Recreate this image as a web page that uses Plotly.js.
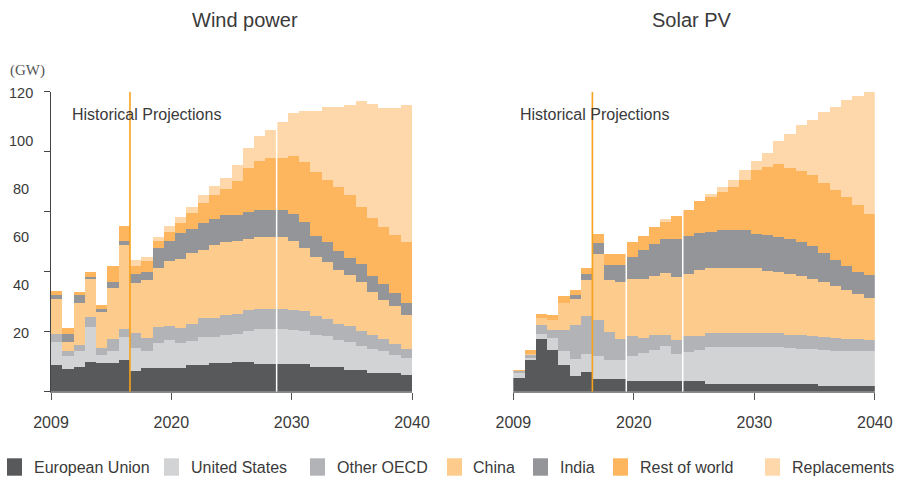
<!DOCTYPE html>
<html>
<head>
<meta charset="utf-8">
<script src="https://cdn.plot.ly/plotly-3.0.1.min.js"></script>
<style>html,body{margin:0;padding:0;background:#fff;}#chart{width:899px;height:479px;}</style>
</head>
<body>
<div id="chart"></div>
<script>
// ---------- DATA ----------
const years = [2009,2010,2011,2012,2013,2014,2015,2016,2017,2018,2019,2020,2021,2022,2023,2024,
               2025,2026,2027,2028,2029,2030,2031,2032,2033,2034,2035,2036,2037,2038,2039,2040];
const seriesNames = ["European Union","United States","Other OECD","China","India","Rest of world","Replacements"];
const seriesColors = ["#58595b","#d1d3d4","#b1b3b6","#fdcb8b","#939598","#fdb55e","#fed8aa"];
const panelTitles = ["Wind power","Solar PV"];
const xTickText = ["2009","2020","2030","2040"];
const yTickLabels = [20,40,60,80,100,120];

// Wind power annual capacity additions (GW)
const windEU    = [10.6,9.1,9.7,12.0,11.4,11.5,12.8,8.4,9.3,9.3,9.3,9.3,10.7,10.7,11.3,11.3,11.9,11.9,11.1,11.1,11.1,11.1,11.1,9.8,9.8,9.8,8.5,8.5,7.5,7.5,7.5,6.6];
const windUS    = [9.2,5.3,6.6,14.0,3.1,4.6,8.9,9.2,7.0,10.0,11.4,10.0,9.6,11.0,10.7,11.4,11.1,12.2,14.1,14.1,14.1,13.5,13.0,13.0,12.3,10.8,11.3,9.8,9.4,8.6,7.3,6.7];
const windOECD  = [3.3,1.9,2.4,3.9,3.0,5.1,3.4,5.8,5.3,6.4,5.7,6.0,6.8,7.6,7.3,8.0,8.2,8.5,8.0,8.0,8.0,7.9,8.1,7.3,7.0,6.5,6.3,5.8,5.7,5.1,4.3,3.8];
const windChina = [13.9,3.5,16.9,15.0,14.3,20.2,33.7,20.2,23.1,23.6,26.0,27.6,28.2,27.4,29.4,29.0,29.2,28.6,28.6,28.6,28.7,27.7,25.4,23.6,22.8,21.4,20.4,19.6,17.3,15.6,15.1,13.5];
const windIndia = [1.8,3.3,3.0,1.1,1.4,2.4,1.3,3.3,3.3,8.0,8.0,10.7,9.8,10.6,10.4,11.0,10.4,10.8,11.0,11.0,10.9,10.7,10.1,8.4,8.0,7.7,7.0,7.2,6.3,6.3,5.3,4.9];
const windRoW   = [1.4,2.3,1.2,1.7,1.4,6.4,6.0,3.4,4.3,3.1,3.6,4.0,6.2,8.0,9.6,10.2,13.4,17.4,19.3,20.6,20.7,23.5,24.2,25.7,24.6,25.7,25.0,23.0,23.3,22.7,23.3,24.3];
const windRepl  = [0,0,0,0,0,0,0,2.3,1.7,1.3,2.3,2.4,2.7,3.4,3.6,4.7,6.6,8.2,10.0,11.4,14.3,16.9,20.5,24.6,29.2,31.8,36.2,42.2,45.5,47.8,50.7,54.8];

// Solar PV annual capacity additions (GW)
const solarEU    = [5.3,12.8,21.1,16.7,10.6,6.4,7.9,5.2,5.2,5.2,4.1,4.1,4.1,4.1,4.1,4.1,4.1,3.1,3.1,3.1,3.1,3.1,3.1,3.1,3.1,3.1,3.1,2.4,2.4,2.4,2.4,2.4];
const solarUS    = [2.0,0.6,2.0,4.6,5.6,6.7,7.3,8.9,7.6,7.6,10.3,11.4,12.5,14.0,10.8,11.6,12.5,14.8,14.8,14.8,14.8,14.8,14.8,14.8,14.2,14.0,14.0,14.4,13.9,13.7,13.7,13.7];
const solarOECD  = [0.8,1.4,3.6,3.4,8.6,13.5,15.0,14.5,11.1,8.3,7.9,5.8,6.0,4.5,5.9,6.4,5.8,5.6,5.6,5.6,5.6,5.6,5.6,5.6,5.3,5.4,5.2,5.2,5.1,5.0,4.8,4.7];
const solarChina = [0.3,0.4,2.9,4.0,10.7,10.5,14.6,26.6,20.9,22.6,22.8,23.8,23.7,24.8,25.0,25.1,26.2,26.0,26.0,26.0,26.0,26.0,24.9,24.3,24.4,23.6,22.6,21.8,20.9,19.7,18.3,16.6];
const solarIndia = [0,0,0,0,0,1.4,2.3,4.3,6.0,7.1,8.8,11.5,12.7,13.7,15.3,14.9,14.8,14.5,15.3,15.3,15.3,13.7,14.2,14.2,14.1,13.7,13.2,11.6,10.5,9.6,8.8,9.4];
const solarRoW   = [0.1,1.4,1.3,2.0,2.6,2.3,2.3,3.7,4.3,4.3,6.0,5.8,7.0,6.8,9.1,10.7,12.7,13.7,15.1,17.1,20.0,25.6,27.3,29.2,28.4,28.3,28.5,28.1,27.9,27.3,26.8,24.3];
const solarRepl  = [0,0,0,0,0,0,0,0,0,0,0,0,0,1.2,0,0,0,1.4,2.0,2.9,4.0,3.6,5.6,9.2,13.6,18.7,21.9,28.4,33.2,39.1,43.3,48.8];

const windSeries  = [windEU, windUS, windOECD, windChina, windIndia, windRoW, windRepl];
const solarSeries = [solarEU, solarUS, solarOECD, solarChina, solarIndia, solarRoW, solarRepl];

// ---------- CHART ----------
const W = 899, H = 479;
const px = v => v / W;
const py = v => (H - v) / H;

const traces = [];
[windSeries, solarSeries].forEach((set, p) => {
  set.forEach((vals, i) => {
    traces.push({
      type: 'bar', x: years, y: vals, width: 1,
      name: seriesNames[i],
      marker: {color: seriesColors[i], line: {width: 0}},
      xaxis: p === 0 ? 'x' : 'x2', yaxis: p === 0 ? 'y' : 'y2',
      showlegend: false, hoverinfo: 'skip'
    });
  });
});

function totals(set) {
  return years.map((_, k) => set.reduce((s, arr) => s + arr[k], 0));
}
const windTot = totals(windSeries), solarTot = totals(solarSeries);
function gapTop(tot, boundary) {
  const k = years.indexOf(Math.floor(boundary));
  return Math.max(tot[k], tot[k + 1]);
}

const x0 = years[0] - 0.5, x1 = years[years.length - 1] + 0.5;
const tickvals = [0, 1, 2, 3].map(i => x0 + i * (x1 - x0) / 3);
const txtColor = '#3a3a3a';
const fontFam = '"Liberation Sans", Arial, sans-serif';

const yDom = [py(391.7), py(91.7)];
const xAxisBase = {
  range: [x0, x1], tickvals: tickvals, ticktext: xTickText,
  ticks: 'outside', ticklen: 7, tickcolor: '#555', tickwidth: 1,
  showline: true, linecolor: '#8a8a8a', linewidth: 1,
  showgrid: false, zeroline: false, fixedrange: true,
  tickfont: {family: fontFam, size: 16, color: txtColor}, ticklabelstandoff: 9
};

const shapes = [];
// historical / projection separators
[['x','y'],['x2','y2']].forEach(([xr, yr]) => {
  shapes.push({type: 'line', xref: xr, yref: yr, x0: 2015.5, x1: 2015.5, y0: 0, y1: 120,
               line: {color: '#f7a21d', width: 1.6}, layer: 'above'});
});
// white separators
shapes.push({type:'line', xref:'x', yref:'y', x0:2028.5, x1:2028.5, y0:0, y1:gapTop(windTot,2028.5), line:{color:'#ffffff', width:1.5}});
[2018.5, 2023.5].forEach(b => shapes.push({type:'line', xref:'x2', yref:'y2', x0:b, x1:b, y0:0, y1:gapTop(solarTot,b), line:{color:'#ffffff', width:1.5}}));

const annotations = [];
// panel titles
annotations.push({text: panelTitles[0], xref:'paper', yref:'paper', x: px(245), y: py(20), xanchor:'center', yanchor:'middle', showarrow:false, font:{family:fontFam, size:20, color:txtColor}});
annotations.push({text: panelTitles[1], xref:'paper', yref:'paper', x: px(691.5), y: py(20), xanchor:'center', yanchor:'middle', showarrow:false, font:{family:fontFam, size:20, color:txtColor}});
// unit
annotations.push({text:'(GW)', xref:'paper', yref:'paper', x: px(27), y: py(70), xanchor:'center', yanchor:'middle', showarrow:false, font:{family:'"Liberation Serif", "DejaVu Serif", serif', size:15, color:'#555'}});
// y tick labels (placed on the label scale of the original)
yTickLabels.forEach(v => annotations.push({text: String(v), xref:'paper', yref:'y3', x: px(20.5), y: v, xanchor:'center', yanchor:'middle', showarrow:false, font:{family:fontFam, size:14.5, color:txtColor}}));
// Historical / Projections
annotations.push({text:'Historical Projections', xref:'paper', yref:'paper', x: px(70), y: py(114.5), xanchor:'left', yanchor:'middle', showarrow:false, font:{family:fontFam, size:16, color:txtColor}});
annotations.push({text:'Historical Projections', xref:'paper', yref:'paper', x: px(517.5), y: py(114.5), xanchor:'left', yanchor:'middle', showarrow:false, font:{family:fontFam, size:16, color:txtColor}});

// legend
const legendSq = [7, 164, 310, 447, 533, 613, 765];
seriesNames.forEach((n, i) => {
  shapes.push({type:'rect', xref:'paper', yref:'paper', x0: px(legendSq[i]), x1: px(legendSq[i] + 15), y0: py(475.7), y1: py(458.3), fillcolor: seriesColors[i], line:{width:0}});
  annotations.push({text: n, xref:'paper', yref:'paper', x: px(legendSq[i] + 24.5), y: py(467.3), xanchor:'left', yanchor:'middle', showarrow:false, font:{family:fontFam, size:16, color:txtColor}});
});

const layout = {
  width: W, height: H, margin: {l:0, r:0, t:0, b:0},
  paper_bgcolor: '#ffffff', plot_bgcolor: 'rgba(0,0,0,0)',
  barmode: 'stack', bargap: 0, showlegend: false,
  xaxis: Object.assign({}, xAxisBase, {domain: [px(51), px(412)], anchor: 'y'}),
  xaxis2: Object.assign({}, xAxisBase, {domain: [px(513.3), px(874.8)], anchor: 'y2'}),
  yaxis: {domain: yDom, range: [0, 120], tickvals: [0,24,48,72,96,120], showticklabels: false,
          ticks: 'outside', ticklen: 6, tickcolor: '#444', showline: true, linecolor: '#444', linewidth: 1,
          showgrid: false, zeroline: false, anchor: 'x', fixedrange: true},
  yaxis2: {domain: yDom, range: [0, 120], showticklabels: false, ticks: '', showline: false,
           showgrid: false, zeroline: false, anchor: 'x2', fixedrange: true},
  yaxis3: {overlaying: 'y', range: [-4.6, 120.7], visible: false, anchor: 'x'},
  shapes: shapes, annotations: annotations
};

Plotly.newPlot('chart', traces, layout, {displayModeBar: false, staticPlot: true});
</script>
</body>
</html>
